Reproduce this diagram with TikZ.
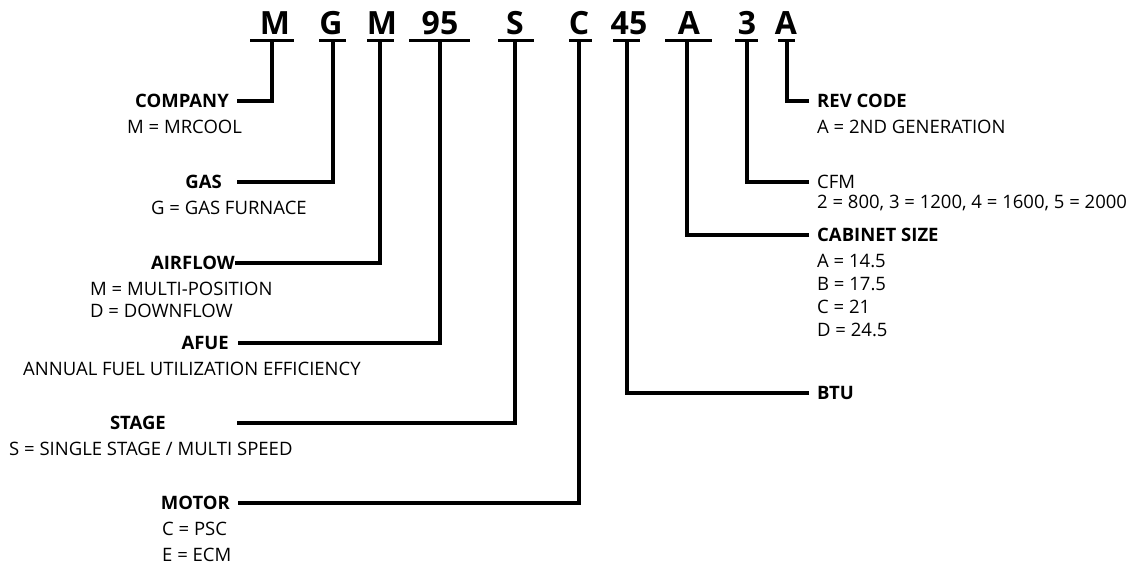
\documentclass[tikz,border=0pt]{standalone}
\usepackage{fontspec}
\setmainfont{Open Sans}
\begin{document}
\begin{tikzpicture}[x=1pt,y=-1pt,
  big/.style={font=\fontsize{32}{32}\selectfont\bfseries, inner sep=0pt, anchor=base},
  ttl/.style={font=\fontsize{18.5}{18.5}\selectfont\bfseries, inner sep=0pt, text height=13pt, text depth=0pt},
  desc/.style={font=\fontsize{18.5}{18.5}\selectfont, inner sep=0pt, anchor=base west},
  conn/.style={line width=3.3pt, line join=miter, line cap=butt},
  uline/.style={line width=3.3pt, line cap=butt}]
\useasboundingbox (0,0) rectangle (1138,569);

% top code letters
\node[big] (c1) at (275,35) {M};
\node[big] (c2) at (331,35) {G};
\node[big] (c3) at (382,35) {M};
\node[big] (c4) at (440,35) {95};
\node[big] (c5) at (515,35) {S};
\node[big] (c6) at (579,35) {C};
\node[big] (c7) at (629,35) {45};
\node[big] (c8) at (689,35) {A};
\node[big] (c9) at (747,35) {3};
\node[big] (c10) at (786,35) {A};

% underline ends and stem tops
\foreach \i/\xa/\xb/\xs in {1/250/294/272, 2/319/346/333, 3/367/394/380, 4/409/470/440, 5/498/534/515, 6/569/592/579, 7/613/640/627, 8/665/712/687, 9/735/758/747, 10/778/795/787}{
  \coordinate (ua\i) at (\xa,40.5);
  \coordinate (ub\i) at (\xb,40.5);
  \coordinate (s\i) at (\xs,40.5);
}
\foreach \i in {1,...,10}{\draw[uline] (ua\i) -- (ub\i);}

% left titles
\node[ttl, anchor=east] (company) at (229,101) {COMPANY};
\node[desc] (companyd) at (127,134) {M = MRCOOL};
\node[ttl, anchor=east] (gas) at (222,182) {GAS};
\node[desc] (gasd) at (151,215) {G = GAS FURNACE};
\node[ttl, anchor=east] (airflow) at (235,263) {AIRFLOW};
\node[desc] (airflowd1) at (90,296) {M = MULTI-POSITION};
\node[desc] (airflowd2) at (90,318) {D = DOWNFLOW};
\node[ttl, anchor=east] (afue) at (229,343) {AFUE};
\node[desc] (afued) at (23,375) {ANNUAL FUEL UTILIZATION EFFICIENCY};
\node[ttl, anchor=east] (stage) at (166,423) {STAGE};
\node[desc] (staged) at (9,455) {S = SINGLE STAGE / MULTI SPEED};
\node[ttl, anchor=east] (motor) at (230,503) {MOTOR};
\node[desc] (motord1) at (162,535) {C = PSC};
\node[desc] (motord2) at (162,561) {E = ECM};

% right titles
\node[ttl, anchor=west] (rev) at (817,101) {REV CODE};
\node[desc] (revd) at (817,134) {A = 2ND GENERATION};
\node[desc, anchor=west, text height=13pt, text depth=0pt] (cfm) at (817,182) {CFM};
\node[desc] (cfmd) at (817,209) {2 = 800, 3 = 1200, 4 = 1600, 5 = 2000};
\node[ttl, anchor=west] (cab) at (817,235) {CABINET SIZE};
\node[desc] (cabd1) at (817,268) {A = 14.5};
\node[desc] (cabd2) at (817,291) {B = 17.5};
\node[desc] (cabd3) at (817,314) {C = 21};
\node[desc] (cabd4) at (817,337) {D = 24.5};
\node[ttl, anchor=west] (btu) at (817,393) {BTU};

% connectors
\draw[conn] ([xshift=8pt]company.east) -| (s1);
\draw[conn] ([xshift=15pt]gas.east) -| (s2);
\draw[conn] (airflow.east) -| (s3);
\draw[conn] ([xshift=9pt]afue.east) -| (s4);
\draw[conn] ([xshift=71pt]stage.east) -| (s5);
\draw[conn] ([xshift=8pt]motor.east) -| (s6);
\draw[conn] ([xshift=-8pt]rev.west) -| (s10);
\draw[conn] ([xshift=-8pt]cfm.west) -| (s9);
\draw[conn] ([xshift=-8pt]cab.west) -| (s8);
\draw[conn] ([xshift=-8pt]btu.west) -| (s7);
\end{tikzpicture}
\end{document}
